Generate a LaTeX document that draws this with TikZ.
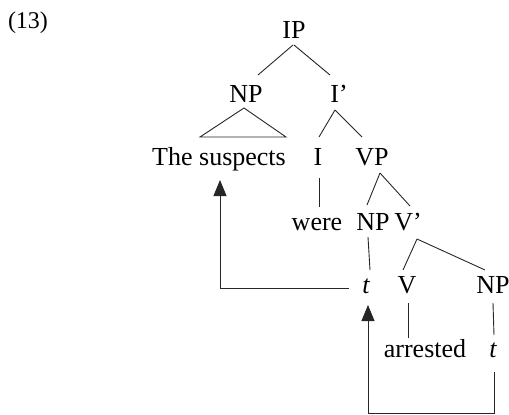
\documentclass[tikz,border=0pt]{standalone}
\usepackage{fontspec}
\setmainfont{Liberation Serif}
\usetikzlibrary{calc,arrows.meta}
\tikzset{
  lbl/.style={inner sep=0pt, anchor=base, font=\fontsize{26}{30}\selectfont},
  branch/.style={line width=0.9pt, draw=black!85},
  move/.style={line width=0.9pt, draw=black!85, -{Triangle[length=16pt,width=13pt]}}
}
\begin{document}
\begin{tikzpicture}[x=1pt,y=-1pt]
\useasboundingbox (0,0) rectangle (509,415);

% example number
\node[lbl, font=\fontsize{24}{28}\selectfont] (num) at (28,28) {(13)};

% tree labels
\node[lbl] (IP) at (294,38) {IP};
\node[lbl] (NP) at (246,102) {NP};
\node[lbl] (Ibar) at (339,102) {I’};
\node[lbl] (subj) at (219,165) {The suspects};
\node[lbl] (I) at (318,165) {I};
\node[lbl] (VP) at (372,165) {VP};
\node[lbl] (were) at (317,230) {were};
\node[lbl] (NPb) at (373,230) {NP};
\node[lbl] (Vbar) at (408,230) {V’};
\node[lbl] (t1) at (366,293) {\itshape t};
\node[lbl] (V) at (407,293) {V};
\node[lbl] (NPc) at (493,293) {NP};
\node[lbl] (arr) at (425,357) {arrested};
\node[lbl] (t2) at (493,357) {\itshape t};

% branches
\draw[branch] ($(IP.base)+(-1,7)$) -- ($(NP.base)+(12,-27)$);
\draw[branch] ($(IP.base)+(0,7)$) -- ($(Ibar.base)+(-9,-27)$);
\draw[branch] ($(NP.base)+(-2,6)$) -- ($(subj.base)+(-19,-28)$)
              -- ($(subj.base)+(67,-28)$) -- cycle;
\draw[branch] ($(Ibar.base)+(-4,8)$) -- ($(I.base)+(1,-28)$);
\draw[branch] ($(Ibar.base)+(-4,8)$) -- ($(VP.base)+(-10,-28)$);
\draw[branch] ($(I.base)+(1,13)$) -- ($(were.base)+(2,-23)$);
\draw[branch] ($(VP.base)+(8,8)$) -- ($(NPb.base)+(-6,-25)$);
\draw[branch] ($(VP.base)+(8,8)$) -- ($(Vbar.base)+(2,-24)$);
\draw[branch] ($(NPb.base)+(-5,7)$) -- ($(t1.base)+(4,-23)$);
\draw[branch] ($(Vbar.base)+(9,9)$) -- ($(V.base)+(-4,-23)$);
\draw[branch] ($(Vbar.base)+(9,9)$) -- ($(NPc.base)+(-8,-23)$);
\draw[branch] ($(V.base)+(1,10)$) -- ($(arr.base)+(-17,-19)$);
\draw[branch] ($(NPc.base)+(0,10)$) -- ($(t2.base)+(1,-22)$);

% movement arrows
\draw[move] ($(t1.base)+(-17,-5)$) -| ($(subj.base)+(1,15)$);
\draw[move] ($(t2.base)+(1,15)$) -- ++(0,41) -| ($(t1.base)+(2,12)$);
\end{tikzpicture}
\end{document}
